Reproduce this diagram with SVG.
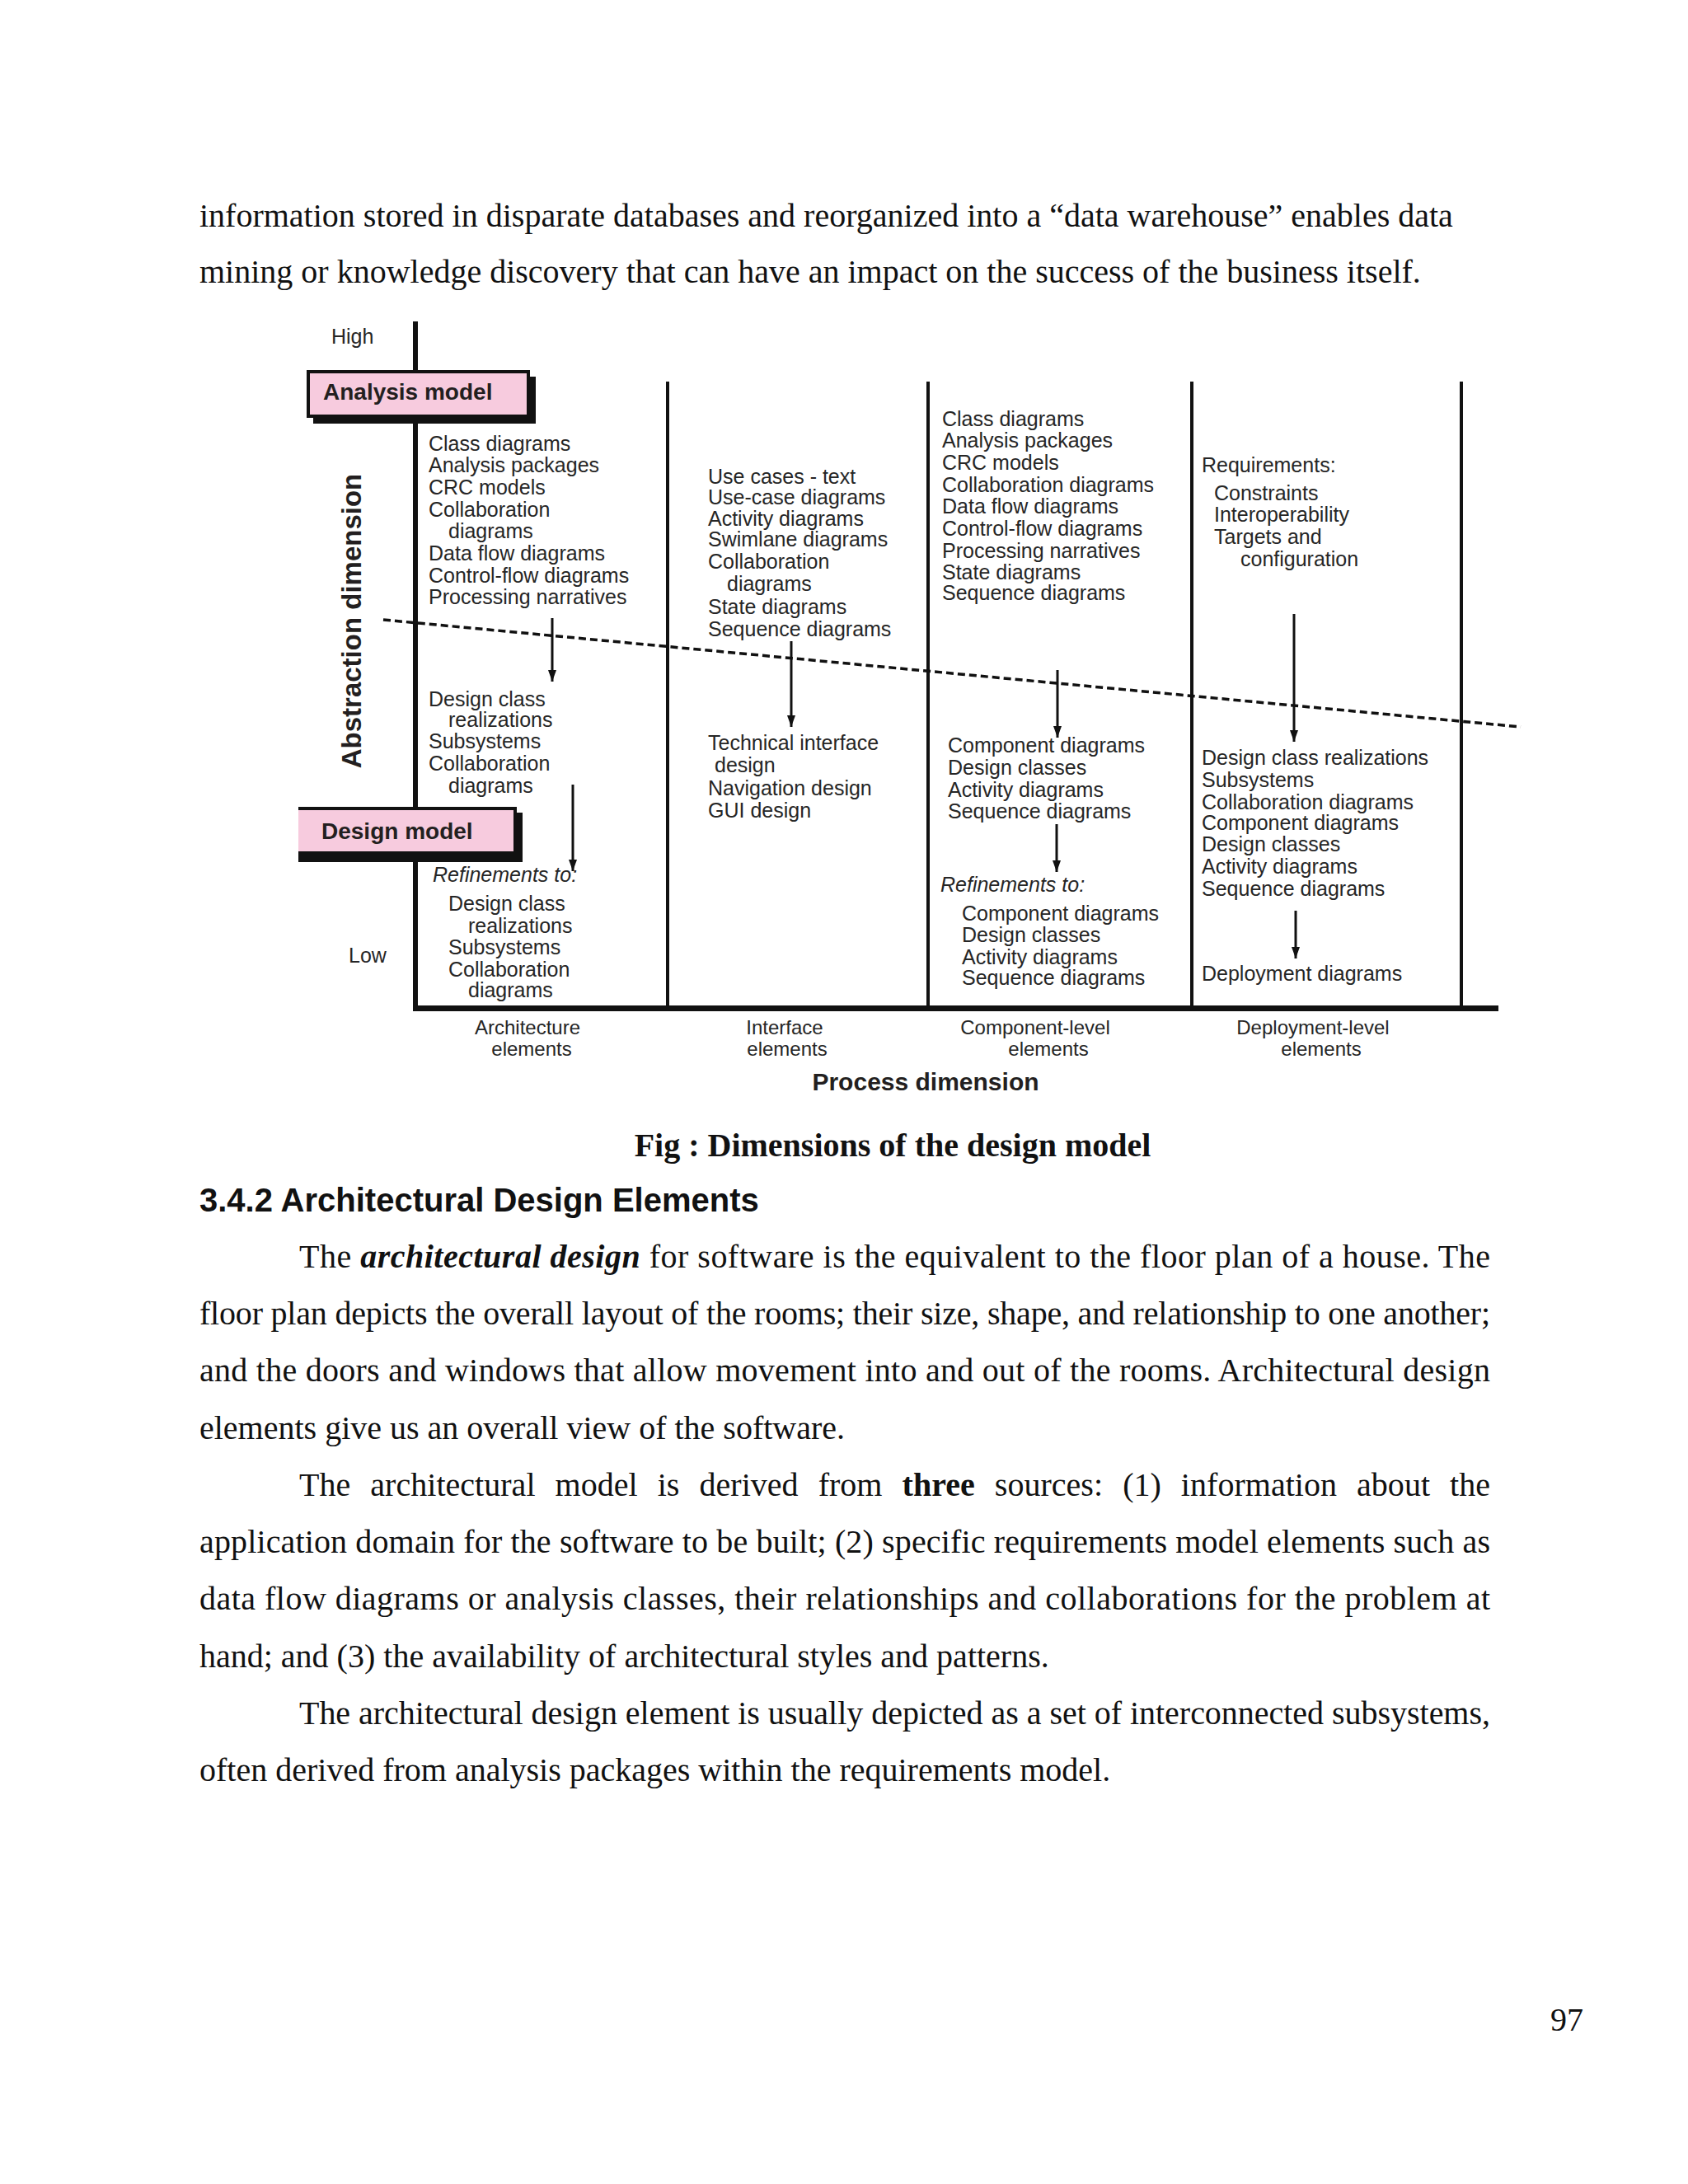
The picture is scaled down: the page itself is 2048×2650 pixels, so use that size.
<svg xmlns="http://www.w3.org/2000/svg" width="2048" height="2650" viewBox="0 0 2048 2650">
<style>
.body{font-family:"Liberation Serif","Times New Roman",serif;font-size:40px;fill:#111}
.d{font-family:"Liberation Sans",Arial,sans-serif;font-size:25px;fill:#262626}
.di{font-family:"Liberation Sans",Arial,sans-serif;font-size:25px;font-style:italic;fill:#262626}
.bx{font-family:"Liberation Sans",Arial,sans-serif;font-size:28px;font-weight:bold;fill:#231f20}
.lbl{font-family:"Liberation Sans",Arial,sans-serif;font-size:24px;fill:#262626;text-anchor:middle}
.ax{stroke:#111;fill:none}
.arr{stroke:#111;stroke-width:3;fill:none;marker-end:url(#ah)}
</style>
<defs>
<marker id="ah" markerUnits="userSpaceOnUse" markerWidth="14" markerHeight="10" refX="14" refY="5" orient="auto">
<path d="M0,0 L14,5 L0,10 z" fill="#111"/>
</marker>
</defs>
<rect width="2048" height="2650" fill="#fff"/>

<g id="page-text-top">
<text class="body" x="242" y="275">information stored in disparate databases and reorganized into a “data warehouse” enables data</text>
<text class="body" x="242" y="343">mining or knowledge discovery that can have an impact on the success of the business itself.</text>
</g>

<g id="axes">
<line class="ax" x1="504" y1="390" x2="504" y2="1227" stroke-width="6"/>
<line class="ax" x1="501" y1="1223.5" x2="1818" y2="1223.5" stroke-width="7"/>
<line class="ax" x1="810" y1="463" x2="810" y2="1222" stroke-width="4"/>
<line class="ax" x1="1126" y1="463" x2="1126" y2="1222" stroke-width="4"/>
<line class="ax" x1="1446" y1="463" x2="1446" y2="1222" stroke-width="4"/>
<line class="ax" x1="1773" y1="463" x2="1773" y2="1222" stroke-width="4"/>
</g>

<g id="connectors">
<line x1="465" y1="752" x2="1845" y2="882" stroke="#111" stroke-width="3.5" stroke-dasharray="9 5"/>
<line class="arr" x1="670" y1="750" x2="670" y2="827"/>
<line class="arr" x1="695" y1="952" x2="695" y2="1057"/>
<line class="arr" x1="960" y1="778" x2="960" y2="882"/>
<line class="arr" x1="1283" y1="813" x2="1283" y2="895"/>
<line class="arr" x1="1282" y1="1000" x2="1282" y2="1058"/>
<line class="arr" x1="1570" y1="745" x2="1570" y2="900"/>
<line class="arr" x1="1572" y1="1105" x2="1572" y2="1163"/>
</g>

<g id="analysis-model">
<rect x="380" y="457" width="270" height="57" fill="#111"/>
<rect x="374" y="451" width="267" height="54" fill="#f7cbde" stroke="#111" stroke-width="4"/>
<text class="bx" x="392" y="485">Analysis model</text>
</g>

<g id="design-model">
<rect x="362" y="986" width="272" height="60" fill="#111"/>
<rect x="362" y="980" width="263" height="55" fill="#f7cbde"/>
<path d="M362,981 H625 V1035 H362" fill="none" stroke="#111" stroke-width="4"/>
<text class="bx" x="390" y="1018">Design model</text>
</g>

<g id="axis-labels">
<text class="d" x="402" y="417" font-size="24">High</text>
<text class="d" x="423" y="1168" font-size="24">Low</text>
<text transform="translate(438,753.5) rotate(-90)" text-anchor="middle" font-family="Liberation Sans, Arial, sans-serif" font-size="33" font-weight="bold" fill="#231f20">Abstraction dimension</text>
<text x="1123" y="1323" text-anchor="middle" font-family="Liberation Sans, Arial, sans-serif" font-size="30" font-weight="bold" fill="#231f20">Process dimension</text>
</g>

<g id="col-architecture">
<text class="d" x="520" y="547">Class diagrams</text>
<text class="d" x="520" y="573">Analysis packages</text>
<text class="d" x="520" y="600">CRC models</text>
<text class="d" x="520" y="627">Collaboration</text>
<text class="d" x="544" y="653">diagrams</text>
<text class="d" x="520" y="680">Data flow diagrams</text>
<text class="d" x="520" y="707">Control-flow diagrams</text>
<text class="d" x="520" y="733">Processing narratives</text>
<text class="d" x="520" y="857">Design class</text>
<text class="d" x="544" y="882">realizations</text>
<text class="d" x="520" y="908">Subsystems</text>
<text class="d" x="520" y="935">Collaboration</text>
<text class="d" x="544" y="962">diagrams</text>
<text class="di" x="525" y="1070">Refinements to:</text>
<text class="d" x="544" y="1105">Design class</text>
<text class="d" x="568" y="1132">realizations</text>
<text class="d" x="544" y="1158">Subsystems</text>
<text class="d" x="544" y="1185">Collaboration</text>
<text class="d" x="568" y="1210">diagrams</text>
<text class="lbl" x="640" y="1255">Architecture</text>
<text class="lbl" x="645" y="1281">elements</text>
</g>

<g id="col-interface">
<text class="d" x="859" y="587">Use cases - text</text>
<text class="d" x="859" y="612">Use-case diagrams</text>
<text class="d" x="859" y="638">Activity diagrams</text>
<text class="d" x="859" y="663">Swimlane diagrams</text>
<text class="d" x="859" y="690">Collaboration</text>
<text class="d" x="882" y="717">diagrams</text>
<text class="d" x="859" y="745">State diagrams</text>
<text class="d" x="859" y="772">Sequence diagrams</text>
<text class="d" x="859" y="910">Technical interface</text>
<text class="d" x="867" y="937">design</text>
<text class="d" x="859" y="965">Navigation design</text>
<text class="d" x="859" y="992">GUI design</text>
<text class="lbl" x="952" y="1255">Interface</text>
<text class="lbl" x="955" y="1281">elements</text>
</g>

<g id="col-component">
<text class="d" x="1143" y="517">Class diagrams</text>
<text class="d" x="1143" y="543">Analysis packages</text>
<text class="d" x="1143" y="570">CRC models</text>
<text class="d" x="1143" y="597">Collaboration diagrams</text>
<text class="d" x="1143" y="623">Data flow diagrams</text>
<text class="d" x="1143" y="650">Control-flow diagrams</text>
<text class="d" x="1143" y="677">Processing narratives</text>
<text class="d" x="1143" y="703">State diagrams</text>
<text class="d" x="1143" y="728">Sequence diagrams</text>
<text class="d" x="1150" y="913">Component diagrams</text>
<text class="d" x="1150" y="940">Design classes</text>
<text class="d" x="1150" y="967">Activity diagrams</text>
<text class="d" x="1150" y="993">Sequence diagrams</text>
<text class="di" x="1141" y="1082">Refinements to:</text>
<text class="d" x="1167" y="1117">Component diagrams</text>
<text class="d" x="1167" y="1143">Design classes</text>
<text class="d" x="1167" y="1170">Activity diagrams</text>
<text class="d" x="1167" y="1195">Sequence diagrams</text>
<text class="lbl" x="1256" y="1255">Component-level</text>
<text class="lbl" x="1272" y="1281">elements</text>
</g>

<g id="col-deployment">
<text class="d" x="1458" y="573">Requirements:</text>
<text class="d" x="1473" y="607">Constraints</text>
<text class="d" x="1473" y="633">Interoperability</text>
<text class="d" x="1473" y="660">Targets and</text>
<text class="d" x="1505" y="687">configuration</text>
<text class="d" x="1458" y="928">Design class realizations</text>
<text class="d" x="1458" y="955">Subsystems</text>
<text class="d" x="1458" y="982">Collaboration diagrams</text>
<text class="d" x="1458" y="1007">Component diagrams</text>
<text class="d" x="1458" y="1033">Design classes</text>
<text class="d" x="1458" y="1060">Activity diagrams</text>
<text class="d" x="1458" y="1087">Sequence diagrams</text>
<text class="d" x="1458" y="1190">Deployment diagrams</text>
<text class="lbl" x="1593" y="1255">Deployment-level</text>
<text class="lbl" x="1603" y="1281">elements</text>
</g>

<g id="page-text-bottom">
<text class="body" x="1083" y="1403" text-anchor="middle" font-weight="bold">Fig : Dimensions of the design model</text>
<text x="242" y="1470" font-family="Liberation Sans, Arial, sans-serif" font-size="40" font-weight="bold" fill="#111">3.4.2 Architectural Design Elements</text>
<text class="body" x="363" y="1538" textLength="1445" lengthAdjust="spacing">The <tspan font-weight="bold" font-style="italic">architectural design</tspan> for software is the equivalent to the floor plan of a house. The</text>
<text class="body" x="242" y="1607" textLength="1566" lengthAdjust="spacing">floor plan depicts the overall layout of the rooms; their size, shape, and relationship to one another;</text>
<text class="body" x="242" y="1676" textLength="1566" lengthAdjust="spacing">and the doors and windows that allow movement into and out of the rooms. Architectural design</text>
<text class="body" x="242" y="1746">elements give us an overall view of the software.</text>
<text class="body" x="363" y="1815" word-spacing="14" textLength="1445" lengthAdjust="spacing">The architectural model is derived from <tspan font-weight="bold">three</tspan> sources: (1) information about the</text>
<text class="body" x="242" y="1884" textLength="1566" lengthAdjust="spacing">application domain for the software to be built; (2) specific requirements model elements such as</text>
<text class="body" x="242" y="1953" textLength="1566" lengthAdjust="spacing">data flow diagrams or analysis classes, their relationships and collaborations for the problem at</text>
<text class="body" x="242" y="2023">hand; and (3) the availability of architectural styles and patterns.</text>
<text class="body" x="363" y="2092" textLength="1445" lengthAdjust="spacing">The architectural design element is usually depicted as a set of interconnected subsystems,</text>
<text class="body" x="242" y="2161">often derived from analysis packages within the requirements model.</text>
<text class="body" x="1921" y="2464" text-anchor="end">97</text>
</g>
</svg>
